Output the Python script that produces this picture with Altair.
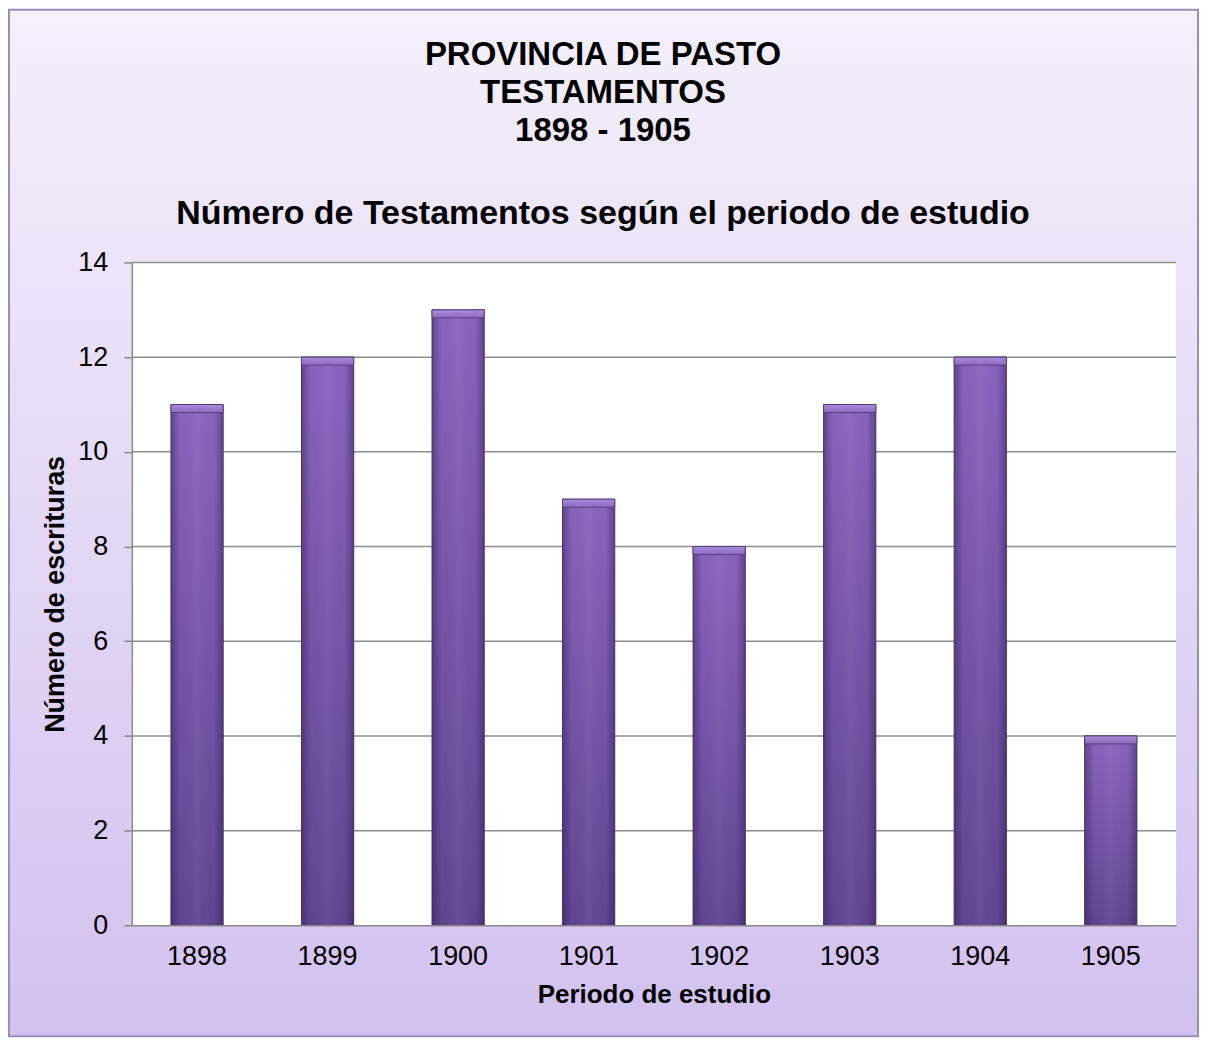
import altair as alt
import pandas as pd

# ---- data ----
years = ["1898", "1899", "1900", "1901", "1902", "1903", "1904", "1905"]
counts = [11, 12, 13, 9, 8, 11, 12, 4]
y_ticks = [0, 2, 4, 6, 8, 10, 12, 14]
grid_values = [2, 4, 6, 8, 10, 12, 14]

title_lines = ["PROVINCIA DE PASTO", "TESTAMENTOS", "1898 - 1905"]
subtitle_text = "Número de Testamentos según el periodo de estudio"
x_title = "Periodo de estudio"
y_title = "Número de escrituras"

df = pd.DataFrame({"year": years, "count": counts})
grid_df = pd.DataFrame({"count": grid_values})
one = pd.DataFrame({"a": [0]})

W, H = 1046, 664
FONT = "Liberation Sans, Arial, sans-serif"

y_scale = alt.Scale(domain=[0, 14], nice=False, zero=True)
x_scale = alt.Scale(paddingInner=0.6, paddingOuter=0.3)


def vgrad(c0, c1):
    return alt.LinearGradient(
        gradient="linear",
        stops=[alt.GradientStop(color=c0, offset=0), alt.GradientStop(color=c1, offset=1)],
        x1=0, x2=0, y1=0, y2=1,
    )


bg_grad = vgrad("#f4f0fc", "#d2c1ef")
bar_grad = vgrad("#8964bd", "#5f4590")
bevel_grad = vgrad("#a98bd9", "#8b69c0")
edge_grad = alt.LinearGradient(
    gradient="linear",
    stops=[
        alt.GradientStop(color="rgba(40,20,75,0.40)", offset=0),
        alt.GradientStop(color="rgba(40,20,75,0)", offset=0.18),
        alt.GradientStop(color="rgba(255,255,255,0.05)", offset=0.5),
        alt.GradientStop(color="rgba(40,20,75,0)", offset=0.82),
        alt.GradientStop(color="rgba(40,20,75,0.40)", offset=1),
    ],
    x1=0, x2=1, y1=0, y2=0,
)

x_axis = alt.Axis(
    title=x_title,
    labelAngle=0,
    labelFontSize=27,
    labelFont=FONT,
    labelColor="black",
    labelPadding=18,
    ticks=False,
    domainColor="#8a8a8a",
    domainWidth=1.5,
    titleFontSize=26,
    titleFont=FONT,
    titleFontWeight="bold",
    titleColor="black",
    titlePadding=12,
    grid=False,
    zindex=1,
)

y_axis = alt.Axis(
    title=y_title,
    values=y_ticks,
    labelFontSize=27,
    labelFont=FONT,
    labelColor="black",
    labelPadding=16,
    tickSize=8,
    tickColor="#8a8a8a",
    tickWidth=1.5,
    domainColor="#8a8a8a",
    domainWidth=1.5,
    titleFontSize=27,
    titleFont=FONT,
    titleFontWeight="bold",
    titleColor="black",
    titlePadding=8,
    grid=False,
    zindex=1,
)

x_enc = alt.X("year:N", scale=x_scale, sort=years, axis=x_axis)
y_enc = alt.Y("count:Q", scale=y_scale, axis=y_axis)

background = alt.Chart(one).mark_rect(
    fill=bg_grad, stroke="#9a8db6", strokeWidth=2
).encode(
    x=alt.value(-123), x2=alt.value(1068), y=alt.value(-253), y2=alt.value(775)
)

plot_bg = alt.Chart(one).mark_rect(fill="white").encode(
    x=alt.value(0), x2=alt.value(W), y=alt.value(0), y2=alt.value(H)
)

grid = alt.Chart(grid_df).mark_rule(color="#8e8e8e", strokeWidth=1.5).encode(
    y=y_enc
)

bars = alt.Chart(df).mark_bar(
    fill=bar_grad, stroke="#4a3870", strokeWidth=1
).encode(x=x_enc, y=y_enc)

edges = alt.Chart(df).mark_bar(fill=edge_grad).encode(x=x_enc, y=y_enc)

bevel = alt.Chart(df).transform_calculate(
    top2="datum.count - 0.17"
).mark_bar(fill=bevel_grad, stroke="#4a3870", strokeWidth=0.8).encode(
    x=x_enc,
    y=y_enc,
    y2="top2:Q",
)

chart = alt.layer(background, plot_bg, grid, bars, edges, bevel).properties(
    width=W,
    height=H,
    padding={"left": 124, "top": 254, "right": 24, "bottom": 114},
    autosize=alt.AutoSizeParams(type="none"),
    title=alt.TitleParams(
        text=title_lines,
        subtitle=subtitle_text,
        anchor="middle",
        dx=-51,
        dy=222,
        offset=0,
        font=FONT,
        fontSize=33,
        fontWeight="bold",
        lineHeight=38,
        color="black",
        subtitleFont=FONT,
        subtitleFontSize=34,
        subtitleFontWeight="bold",
        subtitleColor="black",
        subtitlePadding=49,
    ),
).configure_view(stroke=None).configure(background="white")

chart.save("out.html", embed_options={"renderer": "svg", "actions": False})
